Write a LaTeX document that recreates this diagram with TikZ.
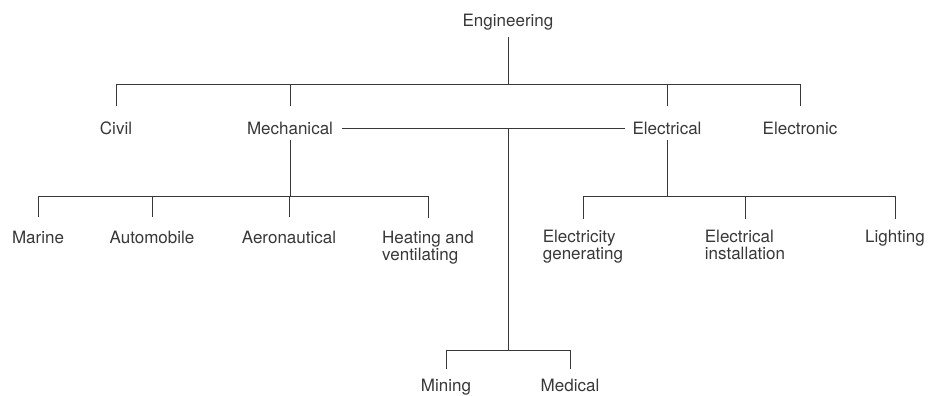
\documentclass[tikz,border=0pt]{standalone}
\usepackage{fontspec}
\setmainfont{TeX Gyre Heros}
\usetikzlibrary{positioning}
\definecolor{ink}{gray}{0.22}

\begin{document}
\begin{tikzpicture}[x=1pt,y=-1pt,
     lbl/.style = {text=ink, inner sep=0pt, font=\fontsize{17}{17}\selectfont},
     sub/.style = {lbl, anchor=north, align=left},
     wire/.style = {draw=ink, line width=0.9pt},
     drop/.style = {wire, shorten >=#1}
    ]
    \useasboundingbox (0,0) rectangle (929,396);

    % top level
    \node [lbl] (eng) at (508,22) {Engineering};
    \node [lbl] (civil) at (116,128) {Civil};
    \node [lbl, right of=civil, node distance=174pt] (mech) {Mechanical};
    \node [lbl, right of=mech, node distance=377pt] (elec) {Electrical};
    \node [lbl, right of=elec, node distance=133pt] (electronic) {Electronic};

    % mechanical branch
    \node [lbl] (marine) at (38,237) {Marine};
    \node [lbl, right of=marine, node distance=114pt] (auto) {Automobile};
    \node [lbl, right of=auto, node distance=137pt] (aero) {Aeronautical};
    \node [sub] (heat) at (428,231) {Heating and\\ventilating};

    % electrical branch
    \node [sub] (gen) at (583,230) {Electricity\\generating};
    \node [sub] (inst) at (745,230) {Electrical\\installation};
    \node [sub] (light) at (895,230) {Lighting};

    % shared branch
    \node [sub] (mining) at (446,379) {Mining};
    \node [sub] (medical) at (570,379) {Medical};

    \coordinate (bus1) at (508,84);
    \coordinate (hub) at (eng |- mech);
    \coordinate (bus3) at (508,350);
    \coordinate (mbus) at (290,196);
    \coordinate (ebus) at (667,196);

    \draw[wire, shorten <=7pt] (eng) -- (bus1);
    \draw[wire] (bus1 -| civil) -- (bus1 -| electronic);
    \foreach \n in {civil,mech,elec,electronic}
        \draw[drop=15pt] (bus1 -| \n) -- (\n);

    \draw[wire, shorten <=9pt, shorten >=7pt] (mech) -- (elec);
    \draw[wire] (hub) -- (bus3);
    \draw[wire] (bus3 -| mining) -- (bus3 -| medical);
    \foreach \n in {mining,medical}
        \draw[drop=10pt] (bus3 -| \n) -- (\n);

    \draw[wire, shorten <=5pt] (mech) -- (mbus);
    \draw[wire] (mbus -| marine) -- (mbus -| heat);
    \foreach \n in {marine,auto,aero,heat}
        \draw[drop=13pt] (mbus -| \n) -- (\n);

    \draw[wire, shorten <=5pt] (elec) -- (ebus);
    \draw[wire] (ebus -| gen) -- (ebus -| light);
    \foreach \n in {gen,inst,light}
        \draw[drop=11pt] (ebus -| \n) -- (\n);
\end{tikzpicture}
\end{document}
